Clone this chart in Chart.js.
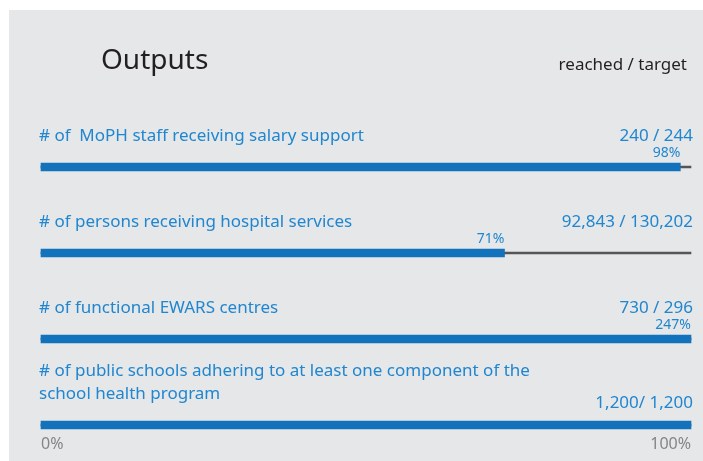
<!DOCTYPE html>
<html>
<head>
<meta charset="utf-8">
<script src="https://cdn.jsdelivr.net/npm/chart.js@4/dist/chart.umd.min.js"></script>
<style>
  body { margin: 0; background: #fff; }
  canvas { display: block; }
</style>
</head>
<body>
<canvas id="outputsChart" width="703" height="461"></canvas>
<script>
// indicators
const indicators = [
    ['# of  MoPH staff receiving salary support'],
    ['# of persons receiving hospital services'],
    ['# of functional EWARS centres'],
    ['# of public schools adhering to at least one component of the', 'school health program']
]
const reached = [240, 92843, 730, 1200]
const target = [244, 130202, 296, 1200]
const ratioLabels = ['240 / 244', '92,843 / 130,202', '730 / 296', '1,200/ 1,200']
const pctLabels = ['98%', '71%', '247%', '']

const blue = '#1272bc'
const textBlue = '#1f86cf'
const FONT = '"Noto Sans", sans-serif'

// bar length = share of target, capped at the full width
const shares = reached.map((r, i) => Math.min(100, r / target[i] * 100))
const track = indicators.map(() => 100)

// background panel + texts
const textPlugin = {
    id: 'texts',
    beforeDraw(chart) {
        const ctx = chart.ctx
        ctx.save()
        ctx.fillStyle = '#ffffff'
        ctx.fillRect(0, 0, chart.width, chart.height)
        ctx.fillStyle = '#e6e7e9'
        ctx.fillRect(9, 10, chart.width - 9, chart.height - 10)

        ctx.fillStyle = '#231f20'
        ctx.textBaseline = 'middle'
        ctx.font = '28px ' + FONT
        ctx.textAlign = 'left'
        ctx.fillText('Outputs', 101, 61)
        ctx.font = '17px ' + FONT
        ctx.textAlign = 'right'
        ctx.fillText('reached / target', 687, 65)
        ctx.restore()
    },
    afterDatasetsDraw(chart) {
        const ctx = chart.ctx
        const x = chart.scales.x
        const y = chart.scales.y
        ctx.save()
        ctx.fillStyle = textBlue
        ctx.textBaseline = 'middle'
        indicators.forEach((lines, i) => {
            const yc = y.getPixelForValue(i)
            ctx.font = '17px ' + FONT
            ctx.textAlign = 'left'
            lines.forEach((line, j) => {
                const ly = yc - 31 - (lines.length - 1 - j) * 23
                ctx.fillText(line, 39, ly)
            })
            ctx.textAlign = 'right'
            const ry = lines.length > 1 ? yc - 22 : yc - 31
            ctx.fillText(ratioLabels[i], x.right + 2, ry)
            if (pctLabels[i]) {
                ctx.font = '14px ' + FONT
                ctx.fillText(pctLabels[i], x.getPixelForValue(shares[i]), yc - 14)
            }
        })
        ctx.restore()
    }
}

const chart = new Chart(document.getElementById('outputsChart'), {
    type: 'bar',
    data: {
        labels: indicators.map(l => l.join(' ')),
        datasets: [{
            data: shares,
            backgroundColor: blue,
            barThickness: 8,
            grouped: false,
            order: 1,
            clip: false
        }, {
            data: track,
            backgroundColor: '#555555',
            barThickness: 2,
            grouped: false,
            order: 2,
            clip: false
        }]
    },
    options: {
        indexAxis: 'y',
        responsive: false,
        animation: false,
        layout: { padding: { left: 41, right: 12, top: 167, bottom: 0 } },
        plugins: {
            legend: { display: false },
            tooltip: { enabled: false }
        },
        scales: {
            x: {
                min: 0,
                max: 100,
                grid: { display: false, drawTicks: false },
                border: { display: false },
                ticks: {
                    stepSize: 100,
                    align: 'inner',
                    padding: 10,
                    color: '#858585',
                    font: { family: FONT, size: 16 },
                    callback: v => v + '%'
                },
                afterFit(scale) { scale.height = 36 }
            },
            y: {
                display: false,
                offset: false
            }
        }
    },
    plugins: [textPlugin]
})
</script>
</body>
</html>
